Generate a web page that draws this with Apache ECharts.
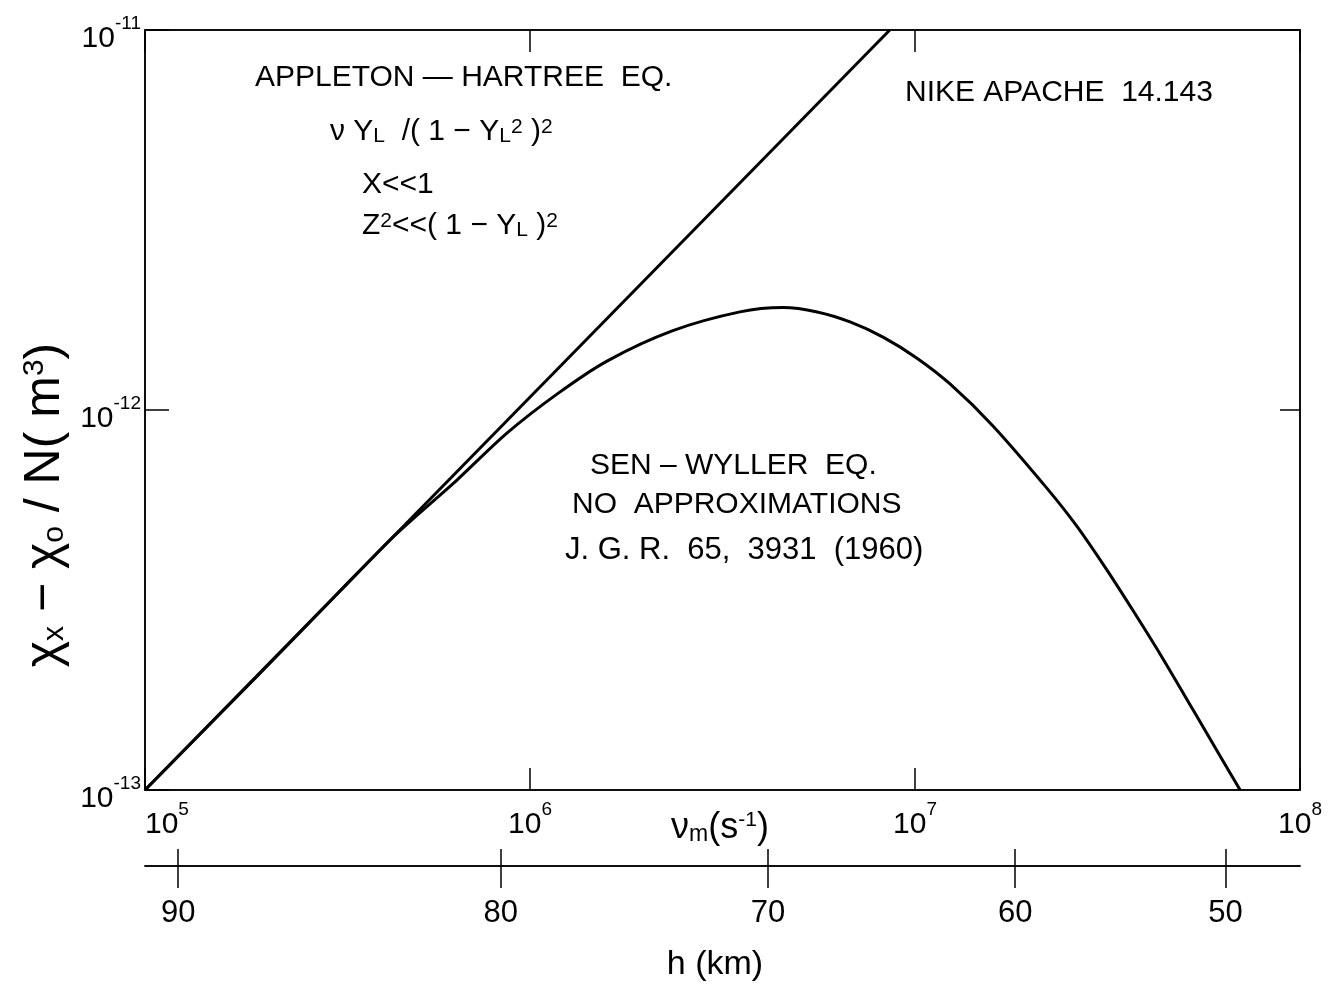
<!DOCTYPE html>
<html><head><meta charset="utf-8">
<script src="https://cdn.jsdelivr.net/npm/echarts@6/dist/echarts.min.js"></script>
<style>html,body{margin:0;padding:0;background:#fff}#c{width:1330px;height:988px}</style>
</head><body><div id="c"></div>
<script>
// ---- data ----
const nuMin = 1e5, nuMax = 1e8;
const chiMin = 1e-13, chiMax = 1e-11;
// Appleton-Hartree approximation (straight line on log-log)
const ahNu  = [1e5, 8.6e6];
const ahChi = [1e-13, 1e-11];
// Sen-Wyller, no approximations
const swNu  = [1.0e5, 1.99e5, 3.21e5, 4.33e5, 5.27e5, 6.46e5, 8.71e5, 1.175e6, 1.585e6, 2.35e6, 3.51e6, 4.54e6, 5.57e6, 6.78e6, 8.26e6, 1.012e7, 1.233e7, 1.594e7, 2.20e7, 2.635e7, 3.153e7, 3.68e7, 4.33e7, 5.27e7, 6.20e7, 6.99e7];
const swChi = [1.0e-13, 2.03e-13, 3.34e-13, 4.55e-13, 5.45e-13, 6.54e-13, 8.69e-13, 1.101e-12, 1.345e-12, 1.617e-12, 1.812e-12, 1.860e-12, 1.811e-12, 1.705e-12, 1.555e-12, 1.369e-12, 1.171e-12, 9.08e-13, 6.23e-13, 4.94e-13, 3.79e-13, 2.971e-13, 2.28e-13, 1.628e-13, 1.229e-13, 1.0e-13];
// height scale (km) and the collision frequency it corresponds to
const hKm = [90, 80, 70, 60, 50];
const hNu = [1.22e5, 8.4e5, 4.15e6, 1.82e7, 6.4e7];

const FONT = "'Liberation Sans', 'DejaVu Sans', sans-serif";
const pairs = (a, b) => a.map((v, i) => [v, b[i]]);
const expOf = v => Math.round(Math.log10(v));

const tickRich = {
  b: { fontSize: 30, lineHeight: 40, fontFamily: FONT, color: '#000', verticalAlign: 'bottom' },
  s: { fontSize: 19, lineHeight: 19, fontFamily: FONT, color: '#000', verticalAlign: 'top' }
};
const txtRich = {
  sub: { fontSize: 21, lineHeight: 21, fontFamily: FONT, fill: '#000', verticalAlign: 'bottom' },
  sup: { fontSize: 21, lineHeight: 21, fontFamily: FONT, fill: '#000', verticalAlign: 'top' }
};

function label(x, y, text, size) {
  return {
    type: 'text', x: x, y: y,
    style: {
      text: text, fontSize: size || 30, fontFamily: FONT, fill: '#000',
      align: 'left', verticalAlign: 'middle', rich: txtRich
    }
  };
}

const chart = echarts.init(document.getElementById('c'), null, { renderer: 'canvas' });
chart.setOption({
  backgroundColor: '#fff',
  animation: false,
  grid: [
    { left: 145, right: 30, top: 30, bottom: 198, show: true, borderColor: '#000', borderWidth: 1.5 },
    { left: 145, right: 30, top: 865, height: 1 }
  ],
  xAxis: [
    { type: 'log', gridIndex: 0, min: nuMin, max: nuMax, logBase: 10, position: 'bottom',
      axisLine: { show: true, lineStyle: { color: '#000', width: 1.5 } },
      axisTick: { show: true, inside: true, length: 22, lineStyle: { color: '#000', width: 1.5 } },
      minorTick: { show: false }, splitLine: { show: false },
      axisLabel: { margin: 10, alignMinLabel: 'left', formatter: v => '{b|10}{s|' + expOf(v) + '}', rich: tickRich } },
    { type: 'log', gridIndex: 0, min: nuMin, max: nuMax, logBase: 10, position: 'top',
      axisLine: { show: true, lineStyle: { color: '#000', width: 1.5 } },
      axisTick: { show: true, inside: true, length: 22, lineStyle: { color: '#000', width: 1.5 } },
      splitLine: { show: false }, axisLabel: { show: false } },
    { type: 'log', gridIndex: 1, min: nuMin, max: nuMax, logBase: 10, position: 'top',
      axisLine: { show: true, lineStyle: { color: '#000', width: 1.5 } },
      axisTick: { show: true, customValues: hNu, length: 17, lineStyle: { color: '#000', width: 1.5 } },
      splitLine: { show: false }, axisLabel: { show: false } },
    { type: 'log', gridIndex: 1, min: nuMin, max: nuMax, logBase: 10, position: 'bottom',
      axisLine: { show: true, lineStyle: { color: '#000', width: 1.5 } },
      axisTick: { show: true, customValues: hNu, length: 22, lineStyle: { color: '#000', width: 1.5 } },
      splitLine: { show: false },
      axisLabel: { customValues: hNu, margin: 32, fontSize: 31, fontFamily: FONT, color: '#000',
        formatter: v => { const i = hNu.findIndex(n => Math.abs(n - v) / n < 1e-6); return i >= 0 ? String(hKm[i]) : ''; } } }
  ],
  yAxis: [
    { type: 'log', gridIndex: 0, min: chiMin, max: chiMax, logBase: 10, position: 'left',
      axisLine: { show: true, lineStyle: { color: '#000', width: 1.5 } },
      axisTick: { show: true, inside: true, length: 24, lineStyle: { color: '#000', width: 1.5 } },
      minorTick: { show: false }, splitLine: { show: false },
      axisLabel: { margin: 4, padding: [8, 0, 0, 0], formatter: v => '{b|10}{s|' + expOf(v) + '}', rich: tickRich } },
    { type: 'log', gridIndex: 0, min: chiMin, max: chiMax, logBase: 10, position: 'right',
      axisLine: { show: true, lineStyle: { color: '#000', width: 1.5 } },
      axisTick: { show: true, inside: true, length: 20, lineStyle: { color: '#000', width: 1.5 } },
      splitLine: { show: false }, axisLabel: { show: false } },
    { type: 'value', gridIndex: 1, show: false }
  ],
  series: [
    { name: 'Appleton-Hartree', type: 'line', xAxisIndex: 0, yAxisIndex: 0, data: pairs(ahNu, ahChi),
      showSymbol: false, lineStyle: { color: '#000', width: 3 } },
    { name: 'Sen-Wyller', type: 'line', xAxisIndex: 0, yAxisIndex: 0, data: pairs(swNu, swChi),
      showSymbol: false, smooth: 0.3, lineStyle: { color: '#000', width: 3 } }
  ],
  graphic: [
    label(255, 78, 'APPLETON — HARTREE  EQ.'),
    label(330, 132, 'ν Y{sub|L}  /( 1 − Y{sub|L}{sup|2} ){sup|2}'),
    label(362, 185, 'X<<1'),
    label(362, 226, 'Z{sup|2}<<( 1 − Y{sub|L} ){sup|2}'),
    label(905, 93, 'NIKE APACHE  14.143'),
    label(590, 466, 'SEN – WYLLER  EQ.'),
    label(572, 505, 'NO  APPROXIMATIONS'),
    label(565, 550, 'J. G. R.  65,  3931  (1960)', 31),
    { type: 'text', x: 720, y: 828,
      style: { text: 'ν{sb|m}(s{sp|-1})', fontSize: 36, fontFamily: FONT, fill: '#000', align: 'center', verticalAlign: 'middle',
        rich: { sb: { fontSize: 23, lineHeight: 23, fontFamily: FONT, fill: '#000', verticalAlign: 'bottom' },
                sp: { fontSize: 21, lineHeight: 21, fontFamily: FONT, fill: '#000', verticalAlign: 'top' } } } },
    { type: 'text', x: 715, y: 965,
      style: { text: 'h (km)', fontSize: 34, fontFamily: FONT, fill: '#000', align: 'center', verticalAlign: 'middle' } },
    { type: 'text', x: 45, y: 505, rotation: Math.PI / 2,
      style: { text: 'χ{sb|x} − χ{sb|o} / N( m{sp|3})', fontSize: 50, fontFamily: FONT, fill: '#000', align: 'center', verticalAlign: 'middle',
        rich: { sb: { fontSize: 30, lineHeight: 30, fontFamily: FONT, fill: '#000', verticalAlign: 'bottom' },
                sp: { fontSize: 30, lineHeight: 30, fontFamily: FONT, fill: '#000', verticalAlign: 'top' } } } }
  ]
});
</script>
</body></html>
